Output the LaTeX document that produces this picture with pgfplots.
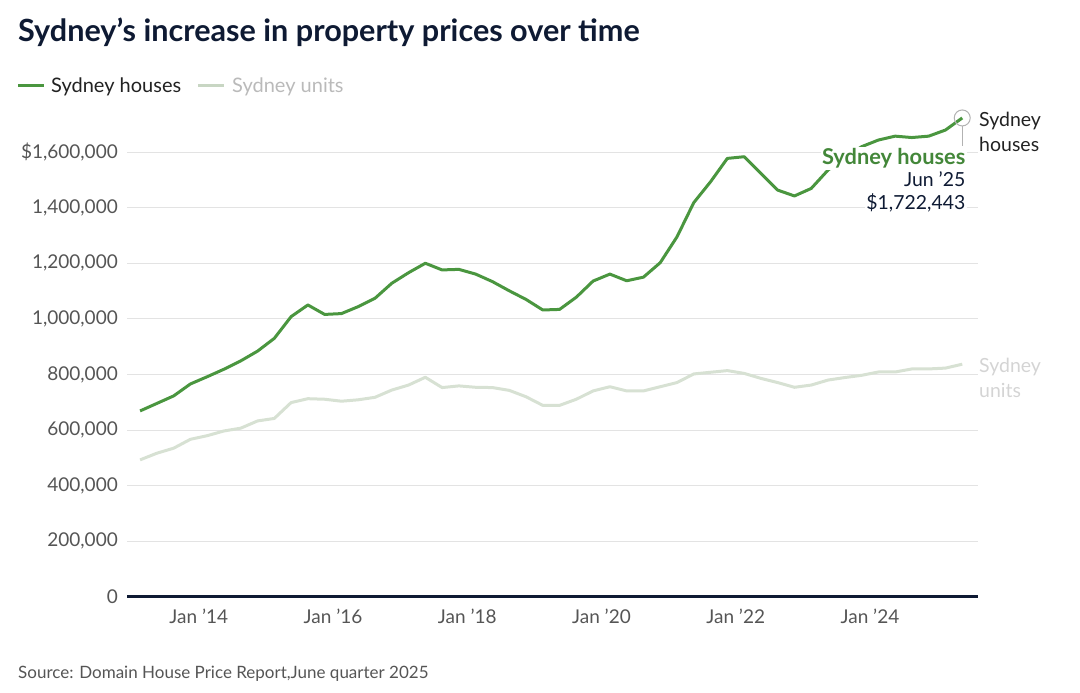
\documentclass[border=0pt]{standalone}
\usepackage{pgfplots}
\pgfplotsset{compat=1.18}
\usepackage{pgfplotstable}
\usepackage{fontspec}
\setmainfont{Lato}
\definecolor{housegreen}{HTML}{4A963F}
\definecolor{unitgreen}{HTML}{D7E1D3}
\definecolor{unitswatch}{HTML}{C8D6C3}
\definecolor{navy}{HTML}{0E1A33}
\definecolor{ticktext}{HTML}{555555}
\definecolor{gridc}{HTML}{E3E3E3}
\definecolor{darktext}{HTML}{222222}

\pgfplotstableread{
x houses units
2013.125 669000 493000
2013.375 696000 517000
2013.625 723000 535000
2013.875 766000 567000
2014.125 792000 580000
2014.375 819000 597000
2014.625 849000 607000
2014.875 884000 633000
2015.125 930000 642000
2015.375 1008000 699000
2015.625 1050000 713000
2015.875 1016000 711000
2016.125 1019000 704000
2016.375 1044000 709000
2016.625 1074000 718000
2016.875 1128000 744000
2017.125 1166000 762000
2017.375 1200000 790000
2017.625 1176000 753000
2017.875 1178000 759000
2018.125 1161000 754000
2018.375 1134000 753000
2018.625 1101000 743000
2018.875 1070000 720000
2019.125 1032000 689000
2019.375 1034000 689000
2019.625 1078000 711000
2019.875 1136000 741000
2020.125 1161000 756000
2020.375 1137000 741000
2020.625 1150000 741000
2020.875 1202000 756000
2021.125 1295000 771000
2021.375 1418000 802000
2021.625 1493000 808000
2021.875 1577000 814000
2022.125 1583000 804000
2022.375 1523000 786000
2022.625 1463000 771000
2022.875 1442000 754000
2023.125 1469000 762000
2023.375 1535000 780000
2023.625 1578000 789000
2023.875 1619000 797000
2024.125 1643000 809000
2024.375 1657000 809000
2024.625 1652000 820000
2024.875 1657000 820000
2025.125 1679000 823000
2025.375 1722443 837000
}\datatable

\begin{document}
\begin{tikzpicture}[x=1bp,y=1bp]
\path[use as bounding box] (0,0) rectangle (1080,693);
\begin{axis}[
  at={(127bp,96bp)}, anchor=south west,
  scale only axis, width=851bp, height=486.7bp,
  xmin=2012.93, xmax=2025.61, ymin=0, ymax=1750000,
  clip=false,
  scaled y ticks=false, scaled x ticks=false,
  axis line style={draw=none},
  ymajorgrids, grid style={gridc, line width=1bp},
  major tick length=0,
  ytick={0,200000,400000,600000,800000,1000000,1200000,1400000,1600000},
  yticklabels={0,{200,000},{400,000},{600,000},{800,000},{1,000,000},{1,200,000},{1,400,000},{\$1,600,000}},
  xtick={2014,2016,2018,2020,2022,2024},
  xticklabels={Jan ’14,Jan ’16,Jan ’18,Jan ’20,Jan ’22,Jan ’24},
  yticklabel style={font=\fontsize{19bp}{21bp}\selectfont, text=ticktext, anchor=east, inner sep=0pt, xshift=-9bp},
  xticklabel style={font=\fontsize{19bp}{21bp}\selectfont, text=ticktext, anchor=north, inner sep=0pt, yshift=-12bp},
  /pgf/number format/assume math mode=true,
]
\draw[navy, line width=3bp] (rel axis cs:0,0) -- (rel axis cs:1,0);
\addplot[unitgreen, line width=3bp, line join=round] table[x=x, y=units] {\datatable};
\addplot[housegreen, line width=3bp, line join=round] table[x=x, y=houses] {\datatable};
\addplot[only marks, mark=o, mark size=8bp, mark options={draw=gray!60, line width=1bp}] coordinates {(2025.375,1722443)};
\end{axis}

% title
\node[anchor=base west, inner sep=0, font=\bfseries\fontsize{30.6bp}{33bp}\selectfont, text=navy] at (18,651) {Sydney’s increase in property prices over time};
% legend
\draw[housegreen, line width=3bp] (18,607) -- (44,607);
\node[anchor=base west, inner sep=0, font=\fontsize{20bp}{22bp}\selectfont, text=darktext] at (51,600) {Sydney houses};
\draw[unitswatch, line width=3bp] (198,607) -- (224,607);
\node[anchor=base west, inner sep=0, font=\fontsize{20bp}{22bp}\selectfont, text=black!27] at (232,600) {Sydney units};
% source
\node[anchor=base west, inner sep=0, font=\fontsize{17bp}{19bp}\selectfont, text=ticktext] at (18,14) {Source: Domain House Price Report,June quarter 2025};

% annotation
\draw[gray!60, line width=1bp] (962.3,567) -- (962.3,547);
\node[anchor=base east, inner sep=1.5bp, fill=white, font=\bfseries\fontsize{21.8bp}{24bp}\selectfont, text=housegreen!90!black] at (967,528) {Sydney houses};
\node[anchor=base east, inner sep=1.5bp, fill=white, font=\fontsize{19.4bp}{21bp}\selectfont, text=navy] at (967,506) {Jun ’25};
\node[anchor=base east, inner sep=1.5bp, fill=white, font=\fontsize{19.4bp}{21bp}\selectfont, text=navy] at (967,483) {\$1,722,443};
% right labels
\node[anchor=base west, inner sep=0, font=\fontsize{19.5bp}{21bp}\selectfont, text=darktext] at (979,566) {Sydney};
\node[anchor=base west, inner sep=0, font=\fontsize{19.5bp}{21bp}\selectfont, text=darktext] at (979,541) {houses};
\node[anchor=base west, inner sep=0, font=\fontsize{19.5bp}{21bp}\selectfont, text=black!17] at (979,320) {Sydney};
\node[anchor=base west, inner sep=0, font=\fontsize{19.5bp}{21bp}\selectfont, text=black!17] at (979,295) {units};
\end{tikzpicture}
\end{document}
